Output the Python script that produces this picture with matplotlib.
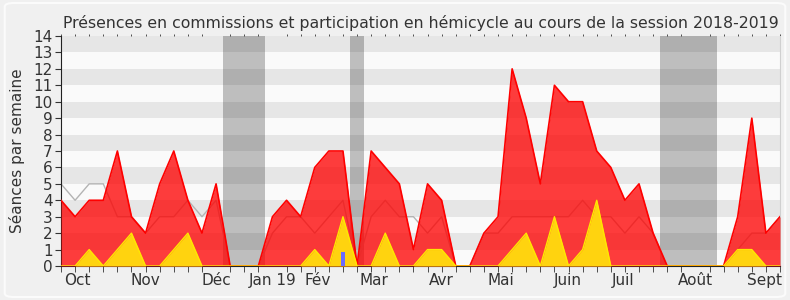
import matplotlib
matplotlib.use("Agg")
import matplotlib.pyplot as plt
from matplotlib.patches import FancyBboxPatch

# weekly values, session 2018-2019 (52 weeks)
hemicycle = [4, 3, 4, 4, 7, 3, 2, 5, 7, 4, 2, 5, 0, 0, 0, 3, 4, 3, 6, 7,
             7, 0, 7, 6, 5, 1, 5, 4, 0, 0, 2, 3, 12, 9, 5, 11, 10, 10, 7, 6,
             4, 5, 2, 0, 0, 0, 0, 0, 3, 9, 2, 3]
commissions = [0, 0, 1, 0, 1, 2, 0, 0, 1, 2, 0, 0, 0, 0, 0, 0, 0, 0, 1, 0,
               3, 0, 0, 2, 0, 0, 1, 1, 0, 0, 0, 0, 1, 2, 0, 3, 0, 1, 4, 0,
               0, 0, 0, 0, 0, 0, 0, 0, 1, 1, 0, 0]
mediane = [5, 4, 5, 5, 3, 3, 2, 3, 3, 4, 3, 4, 0, 0, 0, 2, 3, 3, 2, 3,
           4, 0, 3, 4, 3, 3, 2, 3, 0, 0, 2, 2, 3, 3, 3, 3, 3, 4, 3, 3,
           2, 3, 2, 0, 0, 0, 0, 0, 1, 2, 2, 3]
questions_weeks = [20]
questions_height = [0.85]

vacances = [(11.5, 14.5), (20.5, 21.5), (42.5, 46.5)]

mois = ["Oct", "Nov", "Déc", "Jan 19", "Fév", "Mar", "Avr", "Mai", "Juin",
        "Juil", "Août", "Sept"]
mois_pos = [1.13, 5.96, 11.0, 15.0, 18.2, 22.2, 26.95, 31.2, 35.95, 39.9,
            45.0, 49.9]

weeks = list(range(len(hemicycle)))
txt = "#333333"

fig = plt.figure(figsize=(7.9, 3.0), dpi=100, facecolor="#f0f0f0")
fig.patches.append(FancyBboxPatch((0.006, 0.01), 0.988, 0.98,
                                  boxstyle="round,pad=0,rounding_size=0.012",
                                  transform=fig.transFigure, facecolor="none",
                                  edgecolor="#fbfbfb", linewidth=1.5))
ax = fig.add_axes([61 / 790, 1 - 266 / 300, (780 - 61) / 790, 230 / 300])
ax.set_facecolor("#fafafa")

for k in range(14):
    if k % 2 == 1:
        ax.axhspan(k, k + 1, color="#e6e6e6", lw=0, zorder=0)
for a, b in vacances:
    ax.axvspan(a, b, color="black", alpha=0.24, lw=0, zorder=1)

ax.plot(weeks, mediane, color="#b4b4b4", lw=1, zorder=2)
ax.fill_between(weeks, hemicycle, color="#ff0000", alpha=0.76, lw=0, zorder=3)
ax.plot(weeks, hemicycle, color="#ff0000", lw=1.2, zorder=3)
ax.fill_between(weeks, commissions, color="#ffd30f", lw=0, zorder=4)
ax.plot(weeks, commissions, color="#ffe800", lw=1, zorder=4)
ax.bar(questions_weeks, questions_height, width=0.3, color="#6b6bff", zorder=5)

ax.set_xlim(0, len(hemicycle) - 1)
ax.set_ylim(0, 14)
ax.set_yticks(range(15))
ax.tick_params(axis="y", labelsize=11, colors=txt, length=4, pad=2)
ax.set_xticks(mois_pos)
ax.set_xticklabels(mois)
ax.set_xticks(weeks, minor=True)
ax.tick_params(axis="x", which="major", length=0, labelsize=11, colors=txt, pad=5)
ax.tick_params(axis="x", which="minor", length=4, color="#333333",
               top=True, bottom=True)
for t in ax.xaxis.get_minorticklines()[1::2]:
    t.set_markersize(1.5)

ax.spines["top"].set_visible(False)
ax.spines["right"].set_color("#d0d0d0")
ax.spines["left"].set_color("#222222")
ax.spines["bottom"].set_color("#222222")

ax.set_ylabel("Séances par semaine", fontsize=11, color=txt, labelpad=6)
ax.set_title("Présences en commissions et participation en hémicycle au cours de la session 2018-2019",
             fontsize=11.3, color=txt, pad=6)

fig.savefig("out.png", dpi=100, facecolor=fig.get_facecolor())
